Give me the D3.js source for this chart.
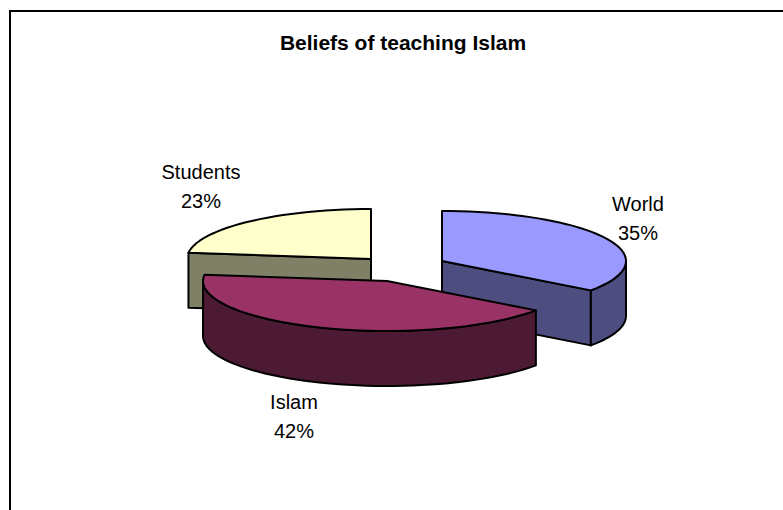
<!DOCTYPE html>
<html><head><meta charset="utf-8">
<script src="https://cdn.jsdelivr.net/npm/d3@7"></script>
<style>html,body{margin:0;padding:0;background:#fff}svg{display:block}
text{font-family:"Liberation Sans",Arial,sans-serif;fill:#000}</style></head>
<body><script>
const categories = ["World", "Islam", "Students"];
const values = [35, 42, 23];
const topColors = ["#9999FF", "#993366", "#FFFFCC"];
const sideColors = ["#4D4D80", "#4D1A33", "#808066"];
const titleText = "Beliefs of teaching Islam";

const W = 783, H = 510;
const rx = 184, ry = 50, depth = 55;
const centers = [[442, 261], [387, 281], [371, 259]];
const labelPos = [[638, 211], [294, 409], [201, 179]];

const svg = d3.select("body").append("svg").attr("width", W).attr("height", H);

// chart frame: only its left and top edges fall inside the picture
svg.append("path").attr("d", `M10,${H}V11H${W}`).attr("fill", "none")
  .attr("stroke", "#000").attr("stroke-width", 2);

svg.append("text").attr("x", 403).attr("y", 50).attr("text-anchor", "middle")
  .attr("font-size", 21).attr("font-weight", "bold").text(titleText);

const arcs = d3.pie().sort(null).value(d => d)(values);

function pt(c, a) { return [c[0] + rx * Math.sin(a), c[1] - ry * Math.cos(a)]; }
function rim(c, a0, a1, dy) {
  const n = Math.max(2, Math.round((a1 - a0) / 0.05));
  return d3.range(n + 1).map(i => {
    const a = a0 + (a1 - a0) * i / n, p = pt(c, a);
    return [p[0], p[1] + dy];
  });
}
const line = d3.line();
function poly(pts, fill) {
  svg.append("path").attr("d", line(pts) + "Z").attr("fill", fill)
    .attr("stroke", "#000").attr("stroke-width", 2).attr("stroke-linejoin", "round");
}

// back-to-front: Students, World, Islam
[2, 0, 1].forEach(i => {
  const d = arcs[i], c = centers[i], a0 = d.startAngle, a1 = d.endAngle;
  const s0 = pt(c, a0), s1 = pt(c, a1);
  const side = sideColors[i];
  // cut faces
  const cut = (p) => poly([c, p, [p[0], p[1] + depth], [c[0], c[1] + depth]], side);
  if (i === 2) { cut(s0); }
  if (i === 0) { cut(s1); }
  // outer wall, only the part facing the viewer (90deg..270deg)
  const lo = Math.max(a0, Math.PI / 2), hi = Math.min(a1, 3 * Math.PI / 2);
  if (hi > lo) {
    poly(rim(c, lo, hi, 0).concat(rim(c, lo, hi, depth).reverse()), side);
  }
  // top face
  poly([c].concat(rim(c, a0, a1, 0)), topColors[i]);
});

// labels
categories.forEach((name, i) => {
  const [x, y] = labelPos[i];
  const t = svg.append("text").attr("text-anchor", "middle").attr("font-size", 20);
  t.append("tspan").attr("x", x).attr("y", y).text(name);
  t.append("tspan").attr("x", x).attr("y", y + 29).text(values[i] + "%");
});
</script></body></html>
